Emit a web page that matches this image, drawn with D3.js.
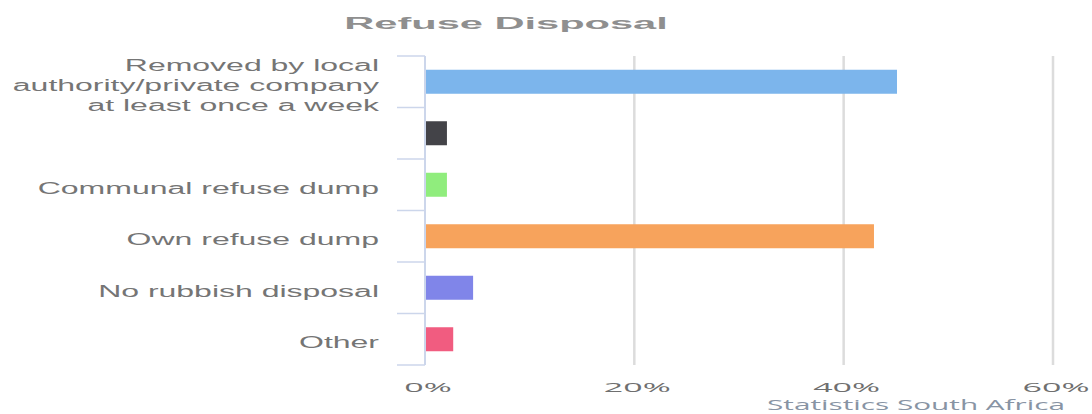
<!DOCTYPE html>
<html>
<head>
<meta charset="utf-8">
<script src="https://cdn.jsdelivr.net/npm/d3@7"></script>
<style>
    body { margin: 0; background: #fff; }
</style>
</head>
<body>
<script>
// data
var categories = [
    ["Removed by local", "authority/private company", "at least once a week"],
    [""],
    ["Communal refuse dump"],
    ["Own refuse dump"],
    ["No rubbish disposal"],
    ["Other"]
];
var values = [45.0, 2.0, 2.0, 42.8, 4.5, 2.6];
var colors = ["#7cb5ec", "#434348", "#90ed7d", "#f7a35c", "#8085e9", "#f15c80"];
var xTicks = [0, 20, 40, 60];
var title = "Refuse Disposal";
var credits = "Statistics South Africa";

var v = 1092;
var h = 414;
var margin = {
    top: 56,
    bottom: 49,
    left: 425,
    right: 39
};

var svg = d3.select("body").append("svg")
    .attr("width", v)
    .attr("height", h);

var x = d3.scaleLinear()
    .domain([0, 60])
    .range([margin.left, v - margin.right]);

var y = d3.scaleBand()
    .domain(d3.range(categories.length))
    .range([margin.top, h - margin.bottom])
    .paddingInner(0.534)
    .paddingOuter(0.267);

// grid
svg.append("g")
    .classed("grid", true)
    .selectAll("line")
    .data(xTicks.filter(function (d) { return d > 0; }))
    .enter()
    .append("line")
    .attr("x1", function (d) { return x(d); })
    .attr("x2", function (d) { return x(d); })
    .attr("y1", margin.top)
    .attr("y2", h - margin.bottom)
    .attr("stroke", "#dcdcdc")
    .attr("stroke-width", 2.5);

// bars
svg.append("g")
    .classed("bars", true)
    .selectAll("rect")
    .data(values)
    .enter()
    .append("rect")
    .attr("x", x(0) + 1)
    .attr("y", function (d, i) { return y(i); })
    .attr("width", function (d) { return x(d) - x(0); })
    .attr("height", y.bandwidth())
    .attr("fill", function (d, i) { return colors[i]; });

// y axis: line + ticks between categories
var yAxis = svg.append("g").classed("y axis", true);
yAxis.append("line")
    .attr("x1", x(0)).attr("x2", x(0))
    .attr("y1", margin.top).attr("y2", h - margin.bottom)
    .attr("stroke", "#ccd6eb")
    .attr("stroke-width", 2);
yAxis.selectAll(".tick")
    .data(d3.range(categories.length + 1))
    .enter()
    .append("line")
    .classed("tick", true)
    .attr("x1", x(0) - 28).attr("x2", x(0))
    .attr("y1", function (i) { return margin.top + i * y.step(); })
    .attr("y2", function (i) { return margin.top + i * y.step(); })
    .attr("stroke", "#ccd6eb")
    .attr("stroke-width", 1.5);

// category labels (the source picture is stretched sideways)
var labels = yAxis.selectAll(".label")
    .data(categories)
    .enter()
    .append("text")
    .classed("label", true)
    .attr("transform", function (d, i) {
        return "translate(379," + (y(i) + y.bandwidth() / 2 + 9) + ") scale(2,1)";
    })
    .attr("text-anchor", "end")
    .style("font-family", "'Liberation Sans', Arial, sans-serif")
    .style("font-size", "16px")
    .style("fill", "#757575");
labels.selectAll("tspan")
    .data(function (d) { return d; })
    .enter()
    .append("tspan")
    .attr("x", 0)
    .attr("y", function (d, j, nodes) { return (j - (nodes.length - 1) / 2) * 20; })
    .text(function (d) { return d; });

// x axis labels
svg.append("g")
    .classed("x axis", true)
    .selectAll("text")
    .data(xTicks)
    .enter()
    .append("text")
    .attr("transform", function (d) { return "translate(" + (x(d) + 3) + ",392) scale(2.7,1)"; })
    .attr("text-anchor", "middle")
    .style("font-family", "'Open Sans', sans-serif")
    .style("font-size", "12.6px")
    .style("fill", "#6f6f6f")
    .text(function (d) { return d + "%"; });

// title
svg.append("text")
    .attr("transform", "translate(506,29) scale(2.6,1)")
    .attr("text-anchor", "middle")
    .style("font-family", "'Liberation Sans', Arial, sans-serif")
    .style("font-weight", "bold")
    .style("font-size", "16px")
    .style("fill", "#8f8f8f")
    .text(title);

// credits
svg.append("text")
    .attr("transform", "translate(1065,410) scale(2.05,1)")
    .attr("text-anchor", "end")
    .style("font-family", "'Open Sans', sans-serif")
    .style("font-size", "14.5px")
    .style("fill", "#8894a4")
    .text(credits);
</script>
</body>
</html>
